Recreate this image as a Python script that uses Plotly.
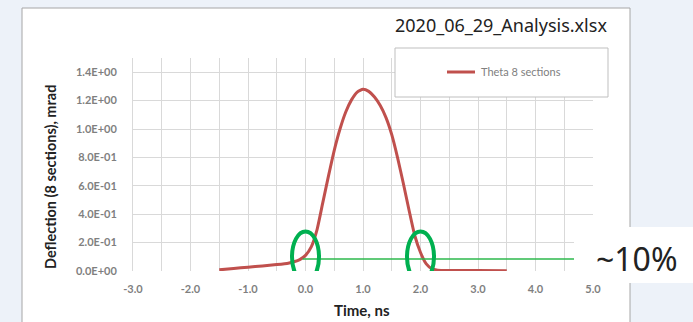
import plotly.graph_objects as go

# ---- data ----
time_ns = [-1.5, -1.25, -1.0, -0.75, -0.5, -0.3, -0.2, -0.1, 0.0, 0.1, 0.2, 0.3, 0.4,
           0.5, 0.6, 0.7, 0.8, 0.9, 1.0, 1.1, 1.2, 1.3, 1.4, 1.5, 1.6, 1.7, 1.8,
           1.9, 2.0, 2.1, 2.2, 2.3, 2.5, 3.0, 3.5]
theta_8_sections = [0.008, 0.018, 0.027, 0.035, 0.045, 0.055, 0.065, 0.08, 0.11, 0.17, 0.29,
                    0.48, 0.67, 0.85, 1.00, 1.12, 1.205, 1.26, 1.28, 1.265, 1.225, 1.165, 1.08,
                    0.96, 0.80, 0.62, 0.43, 0.25, 0.13, 0.05, 0.015, 0.006, 0.004, 0.003, 0.002]

threshold_x = [-0.05, 4.68]
threshold_y = [0.085, 0.085]
ellipse_centers_x = [0.0, 2.0]
ellipse_center_y = 0.10

x_tick_vals = [-3.0, -2.5, -2.0, -1.5, -1.0, -0.5, 0.0, 0.5, 1.0, 1.5, 2.0, 2.5, 3.0, 3.5, 4.0, 4.5, 5.0]
x_tick_text = ["-3.0", "", "-2.0", "", "-1.0", "", "0.0", "", "1.0", "", "2.0", "", "3.0", "", "4.0", "", "5.0"]
y_tick_vals = [0.0, 0.2, 0.4, 0.6, 0.8, 1.0, 1.2, 1.4]
y_tick_text = ["0.0E+00", "2.0E-01", "4.0E-01", "6.0E-01", "8.0E-01", "1.0E+00", "1.2E+00", "1.4E+00"]

file_title = "2020_06_29_Analysis.xlsx"
series_name = "Theta 8 sections"
note_text = "~10%"

# ---- layout geometry (pixels) ----
W, H = 693, 322
L, R, T, B = 133, 593, 58, 271


def px(xp):
    return (xp - L) / (R - L)


def py(yp):
    return (B - yp) / (B - T)


RED = "#c0504d"
GREEN = "#00b050"
GRID = "#d9d9d9"
TICK = "#7f7f7f"

fig = go.Figure()

fig.add_trace(go.Scatter(
    x=time_ns, y=theta_8_sections, mode="lines", name=series_name,
    line=dict(color=RED, width=3, shape="spline", smoothing=0.5),
    showlegend=False,
))
fig.add_trace(go.Scatter(
    x=threshold_x, y=threshold_y, mode="lines",
    line=dict(color="#2db84d", width=1.5), showlegend=False,
))

shapes = []
# white panel
shapes.append(dict(type="rect", xref="paper", yref="paper", layer="below",
                   x0=px(22), x1=px(630), y0=py(8), y1=py(330),
                   fillcolor="white", line=dict(color="#a6a6a6", width=1)))
# ellipses
ew, eh = 0.235, 0.178
for cx in ellipse_centers_x:
    shapes.append(dict(type="circle", xref="x", yref="y", layer="above",
                       x0=cx - ew, x1=cx + ew, y0=ellipse_center_y - eh, y1=ellipse_center_y + eh,
                       line=dict(color=GREEN, width=4)))
# legend box
shapes.append(dict(type="rect", xref="paper", yref="paper", layer="above",
                   x0=px(395), x1=px(608), y0=py(97), y1=py(48),
                   fillcolor="white", line=dict(color="#bfbfbf", width=1)))
shapes.append(dict(type="line", xref="paper", yref="paper", layer="above",
                   x0=px(447), x1=px(475), y0=py(72), y1=py(72),
                   line=dict(color=RED, width=3)))
# white note box
shapes.append(dict(type="rect", xref="paper", yref="paper", layer="above",
                   x0=px(574), x1=px(700), y0=py(283), y1=py(227),
                   fillcolor="white", line=dict(width=0)))

annotations = [
    dict(text=file_title, xref="paper", yref="paper", x=px(609), y=py(25),
         xanchor="right", yanchor="middle", showarrow=False,
         font=dict(family="Noto Sans", size=18, color="#222222")),
    dict(text=series_name, xref="paper", yref="paper", x=px(479), y=py(72),
         xanchor="left", yanchor="middle", showarrow=False,
         font=dict(family="Lato", size=11, color="#808080")),
    dict(text=note_text, xref="paper", yref="paper", x=px(637), y=py(258),
         xanchor="center", yanchor="middle", showarrow=False,
         font=dict(family="Noto Sans", size=32, color="#222222")),
    dict(text="<b>Deflection (8 sections), mrad</b>", xref="paper", yref="paper",
         x=px(50), y=py(177), xanchor="center", yanchor="middle", textangle=-90,
         showarrow=False, font=dict(family="Lato", size=14.5, color="#222222")),
    dict(text="<b>Time, ns</b>", xref="paper", yref="paper", x=px(362), y=py(310),
         xanchor="center", yanchor="middle", showarrow=False,
         font=dict(family="Lato", size=15, color="#222222")),
]

fig.update_layout(
    width=W, height=H,
    margin=dict(l=L, r=W - R, t=T, b=H - B, pad=0),
    paper_bgcolor="#edf2f9", plot_bgcolor="white",
    shapes=shapes, annotations=annotations,
    showlegend=False,
)
fig.update_xaxes(range=[-3, 5], tickvals=x_tick_vals, ticktext=x_tick_text,
                 showgrid=True, gridcolor=GRID, gridwidth=1, zeroline=False,
                 showline=False, ticks="", ticklabelstandoff=10,
                 tickfont=dict(family="Lato", size=11, color=TICK, weight="bold"))
fig.update_yaxes(range=[0, 1.5], tickvals=y_tick_vals, ticktext=y_tick_text,
                 showgrid=True, gridcolor=GRID, gridwidth=1, zeroline=False,
                 showline=True, linecolor=GRID, mirror=False, ticks="", ticklabelstandoff=13,
                 tickfont=dict(family="Lato", size=11, color=TICK, weight="bold"))

fig.write_html("out.html")
